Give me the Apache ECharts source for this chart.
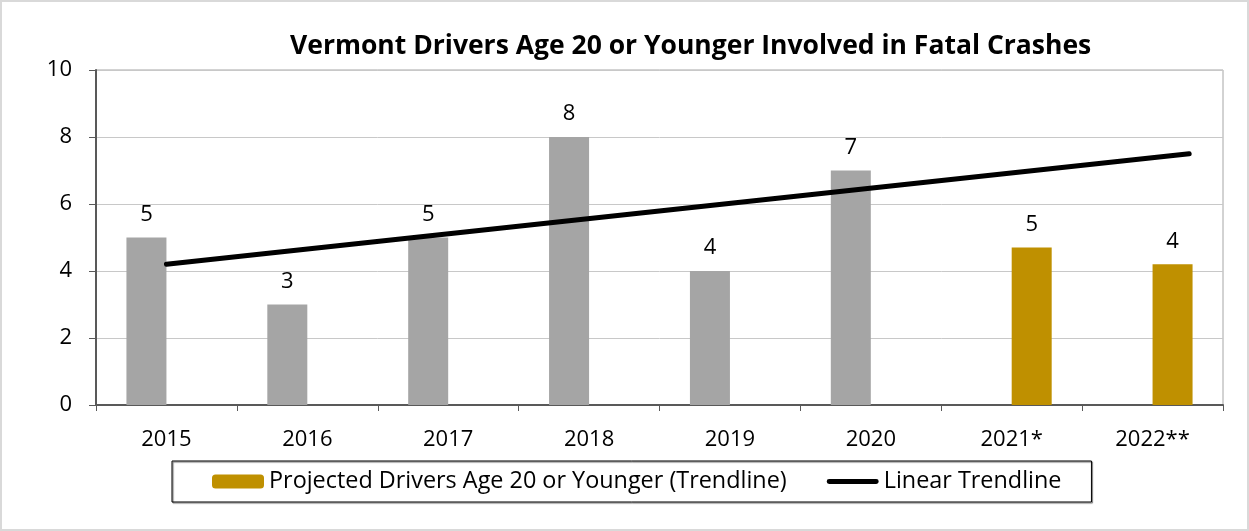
<!DOCTYPE html>
<html>
<head>
<meta charset="utf-8">
<script src="https://cdn.jsdelivr.net/npm/echarts@6/dist/echarts.min.js"></script>
<style>
  html, body { margin: 0; padding: 0; background: #fff; }
  #chart { width: 1245px; height: 527px; border: 2px solid #d9d9d9; }
</style>
</head>
<body>
<div id="chart"></div>
<script>
const years = ["2015", "2016", "2017", "2018", "2019", "2020", "2021*", "2022**"];
// actual counts (grey bars)
const actualDrivers = [5, 3, 5, 8, 4, 7, null, null];
// projected values (gold bars)
const projectedDrivers = [null, null, null, null, null, null, 4.7, 4.2];
// linear trendline: category position (0 = 2015) and value
const trendX = [0, 7.26];
const trendY = [4.2, 7.5];
const yTicks = { min: 0, max: 10, interval: 2 };

const FONT = "Open Sans";

const chart = echarts.init(document.getElementById("chart"));

const barLabel = {
    show: true,
    position: "top",
    distance: 12,
    color: "#000",
    fontFamily: FONT,
    fontSize: 22,
    formatter: function (p) {
        return Math.round(p.value);
    }
};

const trendData = trendX.map(function (x, i) {
    return [x, trendY[i]];
});

const option = {
    animation: false,
    title: {
        text: "Vermont Drivers Age 20 or Younger Involved in Fatal Crashes",
        left: 283,
        top: 26,
        textStyle: {
            fontFamily: FONT,
            fontWeight: "bold",
            fontSize: 26.5,
            color: "#000"
        }
    },
    grid: {
        left: 94,
        right: 24,
        top: 68,
        bottom: 124,
        show: true,
        borderColor: "#a6a6a6",
        borderWidth: 1
    },
    legend: {
        left: 170,
        top: 459,
        width: 1000,
        padding: [9, 30, 9, 40],
        itemGap: 40,
        itemWidth: 52,
        itemHeight: 14,
        borderColor: "#000",
        borderWidth: 1,
        shadowColor: "rgba(0,0,0,0.6)",
        shadowOffsetX: 1,
        shadowOffsetY: 1,
        shadowBlur: 1,
        textStyle: { fontFamily: FONT, fontSize: 23.4, color: "#000" },
        data: [
            "Projected Drivers Age 20 or Younger (Trendline)",
            { name: "Linear Trendline", icon: "path://M2,0 L50,0 A2.5,2.5 0 0 1 50,5 L2,5 A2.5,2.5 0 0 1 2,0 Z" }
        ]
    },
    xAxis: [
        {
            type: "category",
            data: years,
            axisLine: { lineStyle: { color: "#595959", width: 2 } },
            axisTick: { show: true, length: 6, lineStyle: { color: "#595959" } },
            axisLabel: { color: "#000", fontFamily: FONT, fontSize: 22, margin: 24 }
        },
        {
            // hidden value axis lined up with category centres, for the trendline
            type: "value",
            min: -0.5,
            max: 7.5,
            show: false
        }
    ],
    yAxis: {
        type: "value",
        min: yTicks.min,
        max: yTicks.max,
        interval: yTicks.interval,
        axisLine: { show: true, onZero: false, lineStyle: { color: "#595959", width: 2 } },
        axisTick: { show: true, length: 7, lineStyle: { color: "#595959" } },
        axisLabel: { color: "#000", fontFamily: FONT, fontSize: 22, margin: 24 },
        splitLine: { lineStyle: { color: "#c8c8c8" } }
    },
    series: [
        {
            name: "Drivers Age 20 or Younger",
            type: "bar",
            data: actualDrivers,
            barWidth: 40,
            barGap: "0%",
            itemStyle: { color: "#a5a5a5" },
            label: barLabel
        },
        {
            name: "Projected Drivers Age 20 or Younger (Trendline)",
            type: "bar",
            data: projectedDrivers,
            barWidth: 40,
            barGap: "0%",
            itemStyle: { color: "#bf9000" },
            label: barLabel
        },
        {
            name: "Linear Trendline",
            type: "line",
            xAxisIndex: 1,
            data: trendData,
            symbol: "none",
            lineStyle: { color: "#000", width: 5, cap: "round" },
            itemStyle: { color: "#000" },
            z: 5
        }
    ]
};

chart.setOption(option);
</script>
</body>
</html>
